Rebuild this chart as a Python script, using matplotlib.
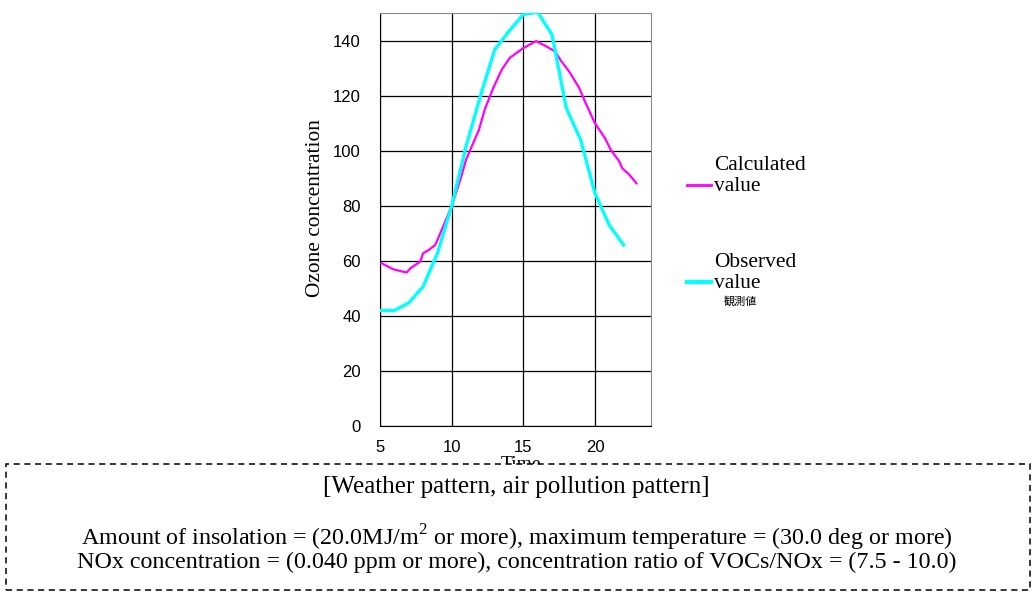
import matplotlib.pyplot as plt
from matplotlib.patches import Rectangle

# observed values (hourly)
obs_time = [5, 6, 7, 8, 9, 10, 11, 12, 13, 14, 15, 16, 17, 18, 19, 20, 21, 22]
obs_vals = [42, 42, 44.8, 50.7, 62.8, 80, 101.6, 119.8, 136.7, 143.4, 149.5, 150.3,
            142.2, 115.5, 104, 84.6, 73, 65.8]

# calculated values
calc_time = [5.1, 5.9, 6.85, 7.1, 7.8, 8.0, 8.4, 8.85, 9.4, 10, 10.6, 11.0, 11.4, 11.9,
             12.3, 12.9, 13.5, 14.05, 15.0, 15.9, 16.6, 17.2, 17.65, 18.2, 18.9, 19.3,
             20.0, 20.7, 21.1, 21.7, 21.9, 22.4, 22.9]
calc_vals = [59.2, 57, 55.8, 57.3, 59.8, 62.8, 64, 65.8, 72.5, 80, 89.5, 96.7, 101.6, 107.6,
             114.9, 122.8, 129.5, 133.7, 137.3, 139.8, 137.9, 136.1, 132.5, 128.8, 122.8, 117.9,
             110, 104.6, 100.4, 96.1, 93.7, 91.3, 88.2]

x_ticks = [5, 10, 15, 20]
y_ticks = [0, 20, 40, 60, 80, 100, 120, 140]

box_title = "[Weather pattern, air pollution pattern]"
box_line1 = "Amount of insolation = (20.0MJ/m$^2$ or more), maximum temperature = (30.0 deg or more)"
box_line2 = "NOx concentration = (0.040 ppm or more), concentration ratio of VOCs/NOx = (7.5 - 10.0)"

serif = "Liberation Serif"
sans = "Liberation Sans"
plt.rcParams["mathtext.fontset"] = "custom"
plt.rcParams["mathtext.rm"] = serif

fig = plt.figure(figsize=(10.33, 5.92), dpi=100)
ax = fig.add_axes([0.368, 0.280, 0.262, 0.698])

ax.plot(calc_time, calc_vals, color="#ff00ff", lw=1.6, zorder=3)
ax.plot(obs_time, obs_vals, color="#00ffff", lw=2.4, zorder=4)

ax.set_xlim(5, 23.9)
ax.set_ylim(0, 150)
ax.set_xticks(x_ticks)
ax.set_yticks(y_ticks)
ax.grid(True, color="black", lw=0.9)
ax.tick_params(axis="y", length=0, labelsize=12, pad=14)
ax.tick_params(axis="x", length=0, labelsize=12, pad=10)
for lab in ax.get_xticklabels() + ax.get_yticklabels():
    lab.set_fontfamily(sans)
for s in ["top", "right"]:
    ax.spines[s].set_color("#888888")
for s in ["left", "bottom"]:
    ax.spines[s].set_color("black")

ax.set_ylabel("Ozone concentration", fontfamily=serif, fontsize=15.4)
ax.yaxis.set_label_coords(-0.203, 0.528)
ax.set_xlabel("Time", fontfamily=serif, fontsize=14)
ax.xaxis.set_label_coords(0.52, -0.072)

# legend drawn by hand
fig.add_artist(plt.Line2D([687 / 1033, 711 / 1033], [1 - 185 / 592] * 2, color="#ff00ff", lw=2))
fig.text(714 / 1033, 1 - 176 / 592, "Calculated\nvalue", fontfamily=serif, fontsize=15.4,
         va="center", ha="left", linespacing=1.15)
fig.add_artist(plt.Line2D([687 / 1033, 711 / 1033], [1 - 282 / 592] * 2, color="#00ffff", lw=3))
fig.text(714 / 1033, 1 - 273 / 592, "Observed\nvalue", fontfamily=serif, fontsize=15.4,
         va="center", ha="left", linespacing=1.15)
fig.text(724 / 1033, 1 - 301 / 592, "観測値", fontfamily=["Noto Sans CJK JP", "DejaVu Sans"],
         fontsize=8, va="center", ha="left")

# dashed info box
box = Rectangle((6 / 1033, 1 - 590 / 592), 1024 / 1033, 126 / 592, transform=fig.transFigure,
                facecolor="white", edgecolor="black", lw=1.1, ls=(0, (4, 3)), zorder=5)
fig.add_artist(box)
fig.text(0.5, 1 - 487 / 592, box_title, fontfamily=serif, fontsize=18, ha="center",
         va="center", zorder=6)
fig.text(0.5, 1 - 538 / 592, box_line1, fontfamily=serif, fontsize=17.3, ha="center",
         va="center", zorder=6)
fig.text(0.5, 1 - 562 / 592, box_line2, fontfamily=serif, fontsize=17.3, ha="center",
         va="center", zorder=6)

fig.savefig("out.png", dpi=100)
